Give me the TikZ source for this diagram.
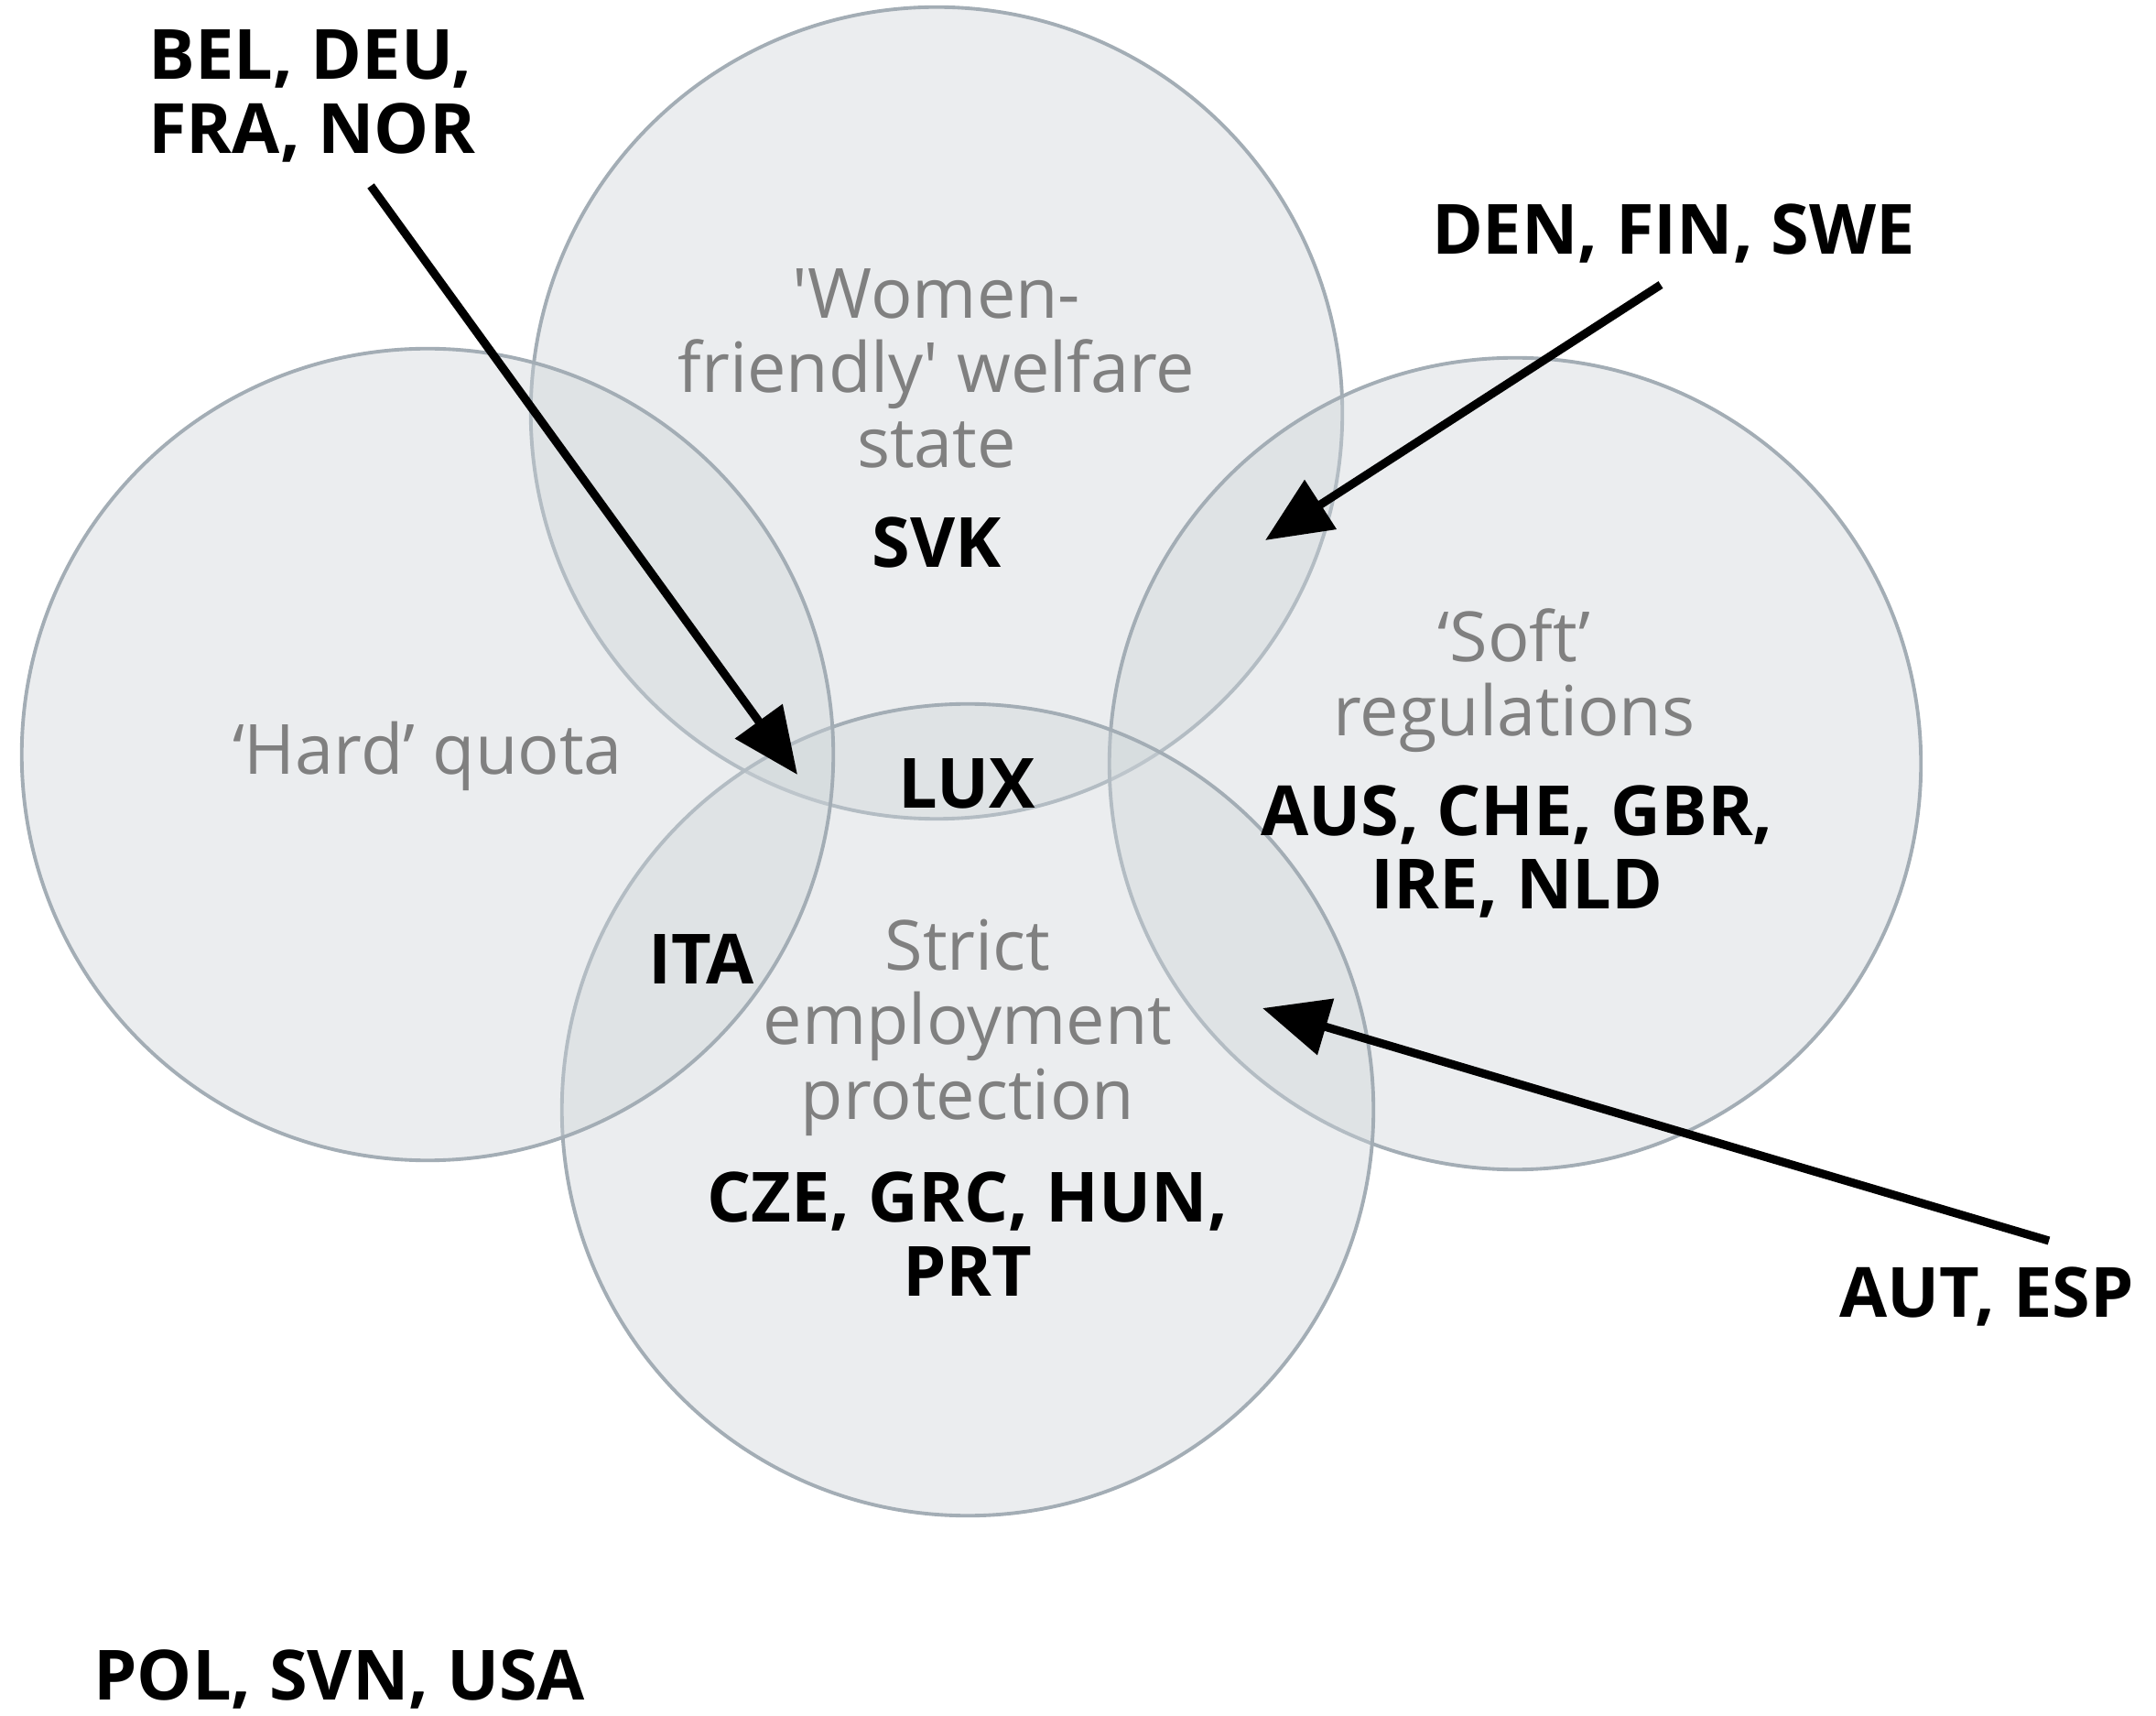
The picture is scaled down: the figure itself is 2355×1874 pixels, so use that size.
\documentclass[tikz,border=0pt]{standalone}
\usepackage{fontspec}
\setmainfont{Open Sans}
\usetikzlibrary{arrows.meta}
\definecolor{vennfill}{RGB}{205,212,216}
\definecolor{vennline}{RGB}{163,173,181}
\definecolor{labgray}{RGB}{128,128,128}
\begin{document}
\begin{tikzpicture}[x=0.01cm,y=-0.01cm,
  venn/.style={circle, minimum size=8.86cm, inner sep=0pt, fill=vennfill, fill opacity=0.4, draw=vennline, line width=1.1pt},
  cat/.style={text=labgray, align=center, font=\fontsize{21.5}{23.2}\selectfont},
  ctry/.style={text=black, align=center, font=\fontsize{21.5}{23}\selectfont\bfseries},
  ptr/.style={line width=2.6pt, -{Triangle[length=0.72cm,width=0.62cm]}}]
\useasboundingbox (0,0) rectangle (2355,1874);
\fill[white] (0,0) rectangle (2355,1874);
% circles
\node[venn] (cwelf) at (1023,451) {};
\node[venn] (csoft) at (1655,834) {};
\node[venn] (cstrict) at (1057,1212) {};
\node[venn] (chard) at (467,824) {};
% category labels
\node[cat] (lwelf) at (1023,402) {\textquotesingle Women-\\friendly\textquotesingle{} welfare\\state};
\node[cat] (lhard) at (467,826) {‘Hard’ quota};
\node[cat] (lsoft) at (1654,743) {‘Soft’\\regulations};
\node[cat] (lstrict) at (1057,1122) {Strict\\employment\\protection};
% country labels
\node[ctry] (svk) at (1023,593) {SVK};
\node[ctry] (lux) at (1056,856) {LUX};
\node[ctry] (ita) at (766,1047) {ITA};
\node[ctry] (soft) at (1657,930) {AUS, CHE, GBR,\\IRE, NLD};
\node[ctry] (strict) at (1057,1348) {CZE, GRC, HUN,\\PRT};
\node[ctry, align=left, anchor=west] (bel) at (150,105) {BEL, DEU,\\FRA, NOR};
\node[ctry] (den) at (1828,255) {DEN, FIN, SWE};
\node[ctry] (aut) at (2170,1416) {AUT, ESP};
\node[ctry, anchor=west] (pol) at (90,1834) {POL, SVN, USA};
% arrows
\coordinate (a1s) at (405,203);
\coordinate (a1e) at (871,846);
\coordinate (a2s) at (1814,311);
\coordinate (a2e) at (1382,590);
\coordinate (a3s) at (2238,1355);
\coordinate (a3e) at (1379,1101);
\draw[ptr] (a1s) -- (a1e);
\draw[ptr] (a2s) -- (a2e);
\draw[ptr] (a3s) -- (a3e);
\end{tikzpicture}
\end{document}
